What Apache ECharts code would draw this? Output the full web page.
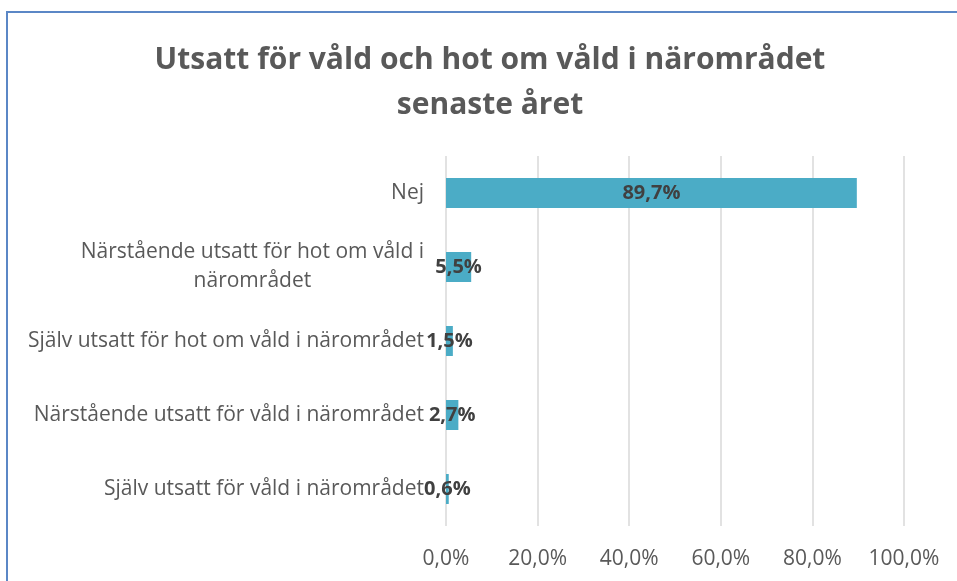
<!DOCTYPE html>
<html>
<head>
<meta charset="utf-8">
<script src="https://cdn.jsdelivr.net/npm/echarts@6/dist/echarts.min.js"></script>
<style>
html, body { margin: 0; padding: 0; background: #fff; }
#frame {
  position: absolute; left: 6px; top: 11px; width: 1000px; height: 650px;
  border-left: 2px solid #5b87c6; border-top: 2px solid #5b87c6;
}
#chart { position: absolute; left: 0; top: 0; width: 957px; height: 581px; }
</style>
</head>
<body>
<div id="frame"></div>
<div id="chart"></div>
<script>
// ---- data (top to bottom as shown) ----
const categories = [
  'Nej',
  'Närstående utsatt för hot om våld i närområdet',
  'Själv utsatt för hot om våld i närområdet',
  'Närstående utsatt för våld i närområdet',
  'Själv utsatt för våld i närområdet'
];
const values = [89.7, 5.5, 1.5, 2.7, 0.6];
const xTicks = [0, 20, 40, 60, 80, 100];

const FONT = '"Open Sans", sans-serif';
const fmt = v => v.toFixed(1).replace('.', ',') + '%';

const chart = echarts.init(document.getElementById('chart'));

chart.setOption({
  backgroundColor: 'transparent',
  animation: false,
  title: {
    text: 'Utsatt för våld och hot om våld i närområdet\nsenaste året',
    left: 485,
    textAlign: 'center',
    top: 33,
    textStyle: {
      fontFamily: FONT, fontWeight: 'bold', fontSize: 30,
      color: '#595959', lineHeight: 45
    }
  },
  grid: { left: 446, right: 53, top: 156, bottom: 55 },
  xAxis: {
    type: 'value',
    min: xTicks[0],
    max: xTicks[xTicks.length - 1],
    interval: 20,
    axisLine: { show: false },
    axisTick: { show: false },
    splitLine: { lineStyle: { color: '#d9d9d9', width: 1.5 } },
    axisLabel: {
      margin: 23,
      fontFamily: FONT, fontSize: 21, color: '#595959',
      formatter: v => fmt(v)
    }
  },
  yAxis: {
    type: 'category',
    inverse: true,
    data: categories,
    axisLine: { show: false },
    axisTick: { show: false },
    axisLabel: {
      margin: 22,
      fontFamily: FONT, fontSize: 21, color: '#595959',
      lineHeight: 29,
      formatter: function (name) {
        if (name.length > 42) {
          const cut = name.lastIndexOf(' ', 35);
          return '{a|' + name.slice(0, cut) + '}\n{b|' + name.slice(cut + 1) + '}';
        }
        return name;
      },
      rich: {
        a: { fontFamily: FONT, fontSize: 21, color: '#595959', lineHeight: 29 },
        b: { fontFamily: FONT, fontSize: 21, color: '#595959', lineHeight: 29, align: 'center' }
      }
    }
  },
  series: [{
    type: 'bar',
    data: values,
    barWidth: 30,
    itemStyle: { color: '#4bacc6' },
    label: {
      show: true,
      position: 'inside',
      fontFamily: FONT, fontWeight: 'bold', fontSize: 20, color: '#404040',
      formatter: p => fmt(p.value)
    }
  }]
});
</script>
</body>
</html>
